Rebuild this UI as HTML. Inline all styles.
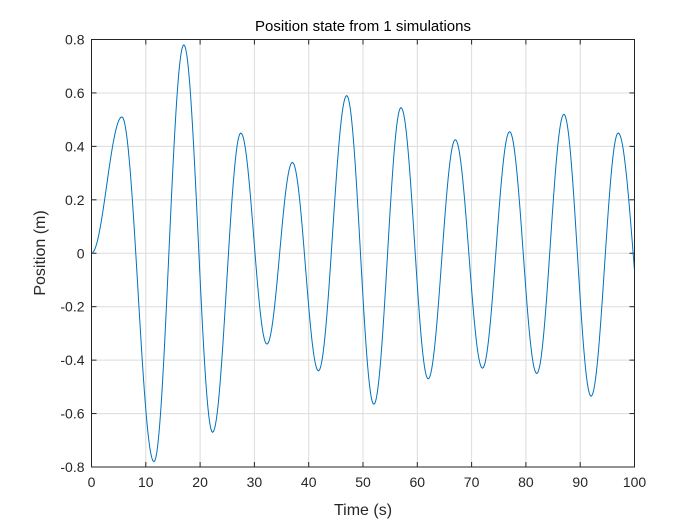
<!DOCTYPE html>
<html><head><meta charset="utf-8"><style>
html,body{margin:0;padding:0;background:#fff;}
svg{display:block;font-family:"Liberation Sans",sans-serif;}
</style></head><body>
<svg id="s" width="700" height="525" viewBox="0 0 700 525" xmlns="http://www.w3.org/2000/svg">
<rect x="0" y="0" width="700" height="525" fill="#fff"/>
<g id="grid" stroke="#dcdcdc" stroke-width="1"></g>
<g id="ticks" stroke="#262626" stroke-width="1"></g>
<defs><clipPath id="c"><rect x="91.5" y="39.5" width="543" height="427.5"/></clipPath></defs>
<path id="curve" fill="none" stroke="#0072bd" stroke-width="1" clip-path="url(#c)"/>
<rect x="91.5" y="39.5" width="543" height="427.5" fill="none" stroke="#262626" stroke-width="1"/>
<g id="labels" font-size="14" fill="#262626"></g>
<text x="363" y="31" font-size="15" text-anchor="middle" fill="#000">Position state from 1 simulations</text>
<text x="363" y="515" font-size="16" text-anchor="middle" fill="#262626">Time (s)</text>
<text transform="translate(45,253) rotate(-90)" font-size="16" text-anchor="middle" fill="#262626">Position (m)</text>
</svg>
<script>
var L=91.5,R=634.5,T=39.5,B=467;
function X(t){return L+(R-L)*t/100;}
function Y(v){return T+(B-T)*(0.8-v)/1.6;}
var ns="http://www.w3.org/2000/svg";
function el(p,n,a,txt){var e=document.createElementNS(ns,n);for(var k in a)e.setAttribute(k,a[k]);if(txt!==undefined)e.textContent=txt;document.getElementById(p).appendChild(e);}
for(var t=0;t<=100;t+=10){var x=X(t);
 if(t>0&&t<100)el("grid","line",{x1:x,y1:T,x2:x,y2:B});
 el("ticks","line",{x1:x,y1:B,x2:x,y2:B-5});el("ticks","line",{x1:x,y1:T,x2:x,y2:T+5});
 el("labels","text",{x:x,y:B+20,"text-anchor":"middle"},String(t));}
for(var i=-4;i<=4;i++){var v=i*0.2,y=Y(v);
 if(i>-4&&i<4)el("grid","line",{x1:L,y1:y,x2:R,y2:y});
 el("ticks","line",{x1:L,y1:y,x2:L+5,y2:y});el("ticks","line",{x1:R,y1:y,x2:R-5,y2:y});
 var s=(Math.abs(v)<1e-9)?"0":v.toFixed(1);
 el("labels","text",{x:L-7,y:y+5,"text-anchor":"end"},s);}
var ex=[[0,0],[5.6,0.51],[11.5,-0.78],[17,0.78],[22.3,-0.67],[27.5,0.45],[32.3,-0.34],[37,0.34],[41.8,-0.44],[47,0.59],[52,-0.565],[57,0.545],[62,-0.47],[67,0.425],[72,-0.43],[77,0.455],[82,-0.45],[87,0.52],[92,-0.535],[97,0.45],[102.5,-0.45]];
var d="";
for(var k=0;k<ex.length-1;k++){var a=ex[k],b=ex[k+1];
 for(var j=0;j<=30;j++){var f=j/30,t=a[0]+(b[0]-a[0])*f;
  var v=a[1]+(b[1]-a[1])*(1-Math.cos(Math.PI*f))/2;
  d+=(d?"L":"M")+X(t).toFixed(2)+","+Y(v).toFixed(2);}}
document.getElementById("curve").setAttribute("d",d);
</script>
</body></html>
